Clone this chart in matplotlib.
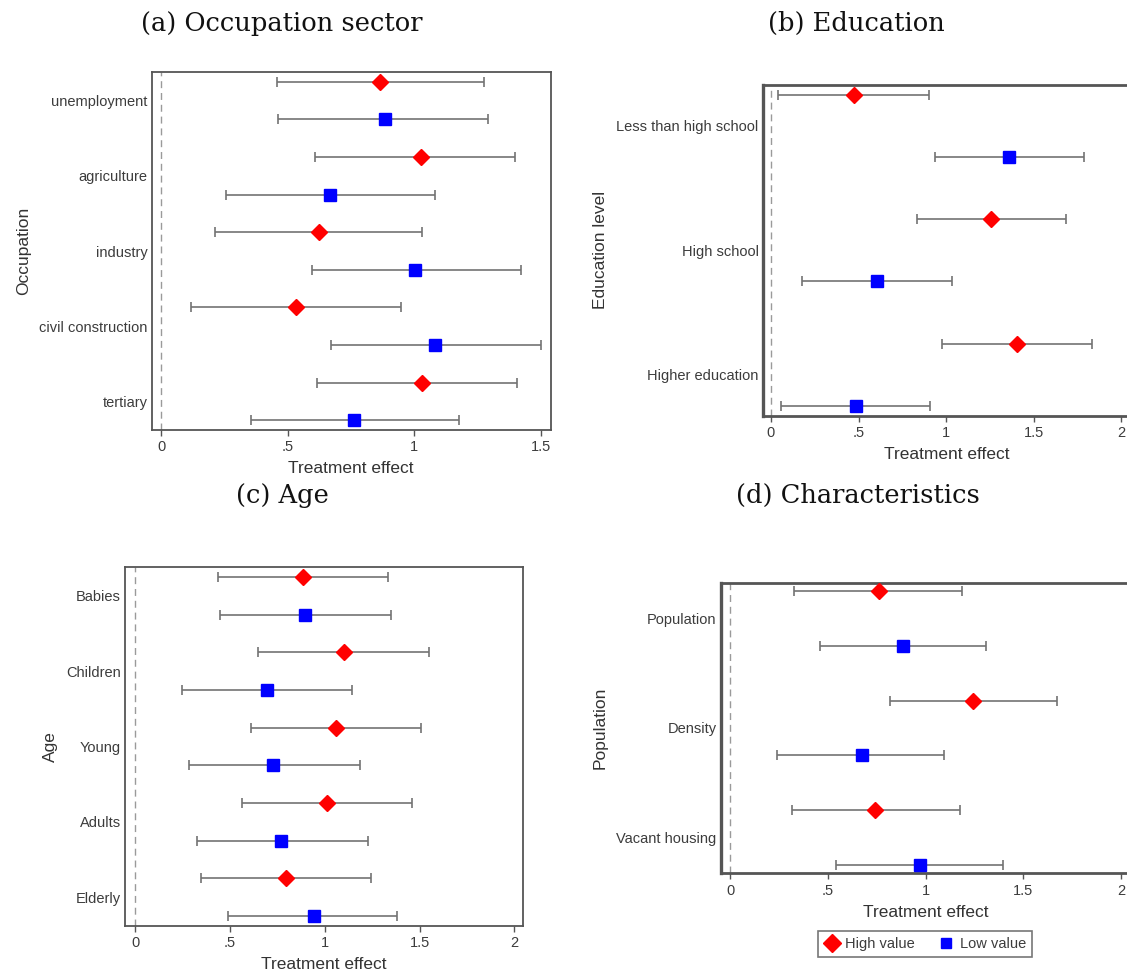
import numpy as np
import matplotlib
matplotlib.use('Agg')
import matplotlib.pyplot as plt
from matplotlib.lines import Line2D

plt.rcParams['font.family'] = ['Liberation Sans', 'DejaVu Sans']

# (a) occupation sector
occ_labels = ['unemployment', 'agriculture', 'industry', 'civil construction', 'tertiary']
occ_high = [0.867, 1.027, 0.624, 0.532, 1.030]
occ_high_lo = [0.457, 0.610, 0.212, 0.120, 0.616]
occ_high_hi = [1.276, 1.398, 1.032, 0.950, 1.405]
occ_low = [0.884, 0.669, 1.005, 1.082, 0.761]
occ_low_lo = [0.464, 0.258, 0.596, 0.672, 0.354]
occ_low_hi = [1.292, 1.084, 1.422, 1.500, 1.177]

# (b) education
edu_labels = ['Less than high school', 'High school', 'Higher education']
edu_high = [0.475, 1.259, 1.405]
edu_high_lo = [0.042, 0.832, 0.976]
edu_high_hi = [0.900, 1.687, 1.834]
edu_low = [1.361, 0.605, 0.485]
edu_low_lo = [0.934, 0.178, 0.055]
edu_low_hi = [1.790, 1.032, 0.908]

# (c) age
age_labels = ['Babies', 'Children', 'Young', 'Adults', 'Elderly']
age_high = [0.888, 1.103, 1.061, 1.012, 0.796]
age_high_lo = [0.438, 0.649, 0.613, 0.565, 0.348]
age_high_hi = [1.336, 1.548, 1.509, 1.458, 1.246]
age_low = [0.894, 0.694, 0.728, 0.771, 0.943]
age_low_lo = [0.448, 0.246, 0.284, 0.325, 0.489]
age_low_hi = [1.347, 1.142, 1.185, 1.226, 1.383]

# (d) population characteristics
pop_labels = ['Population', 'Density', 'Vacant housing']
pop_high = [0.759, 1.241, 0.740]
pop_high_lo = [0.328, 0.816, 0.319]
pop_high_hi = [1.184, 1.670, 1.174]
pop_low = [0.883, 0.673, 0.969]
pop_low_lo = [0.459, 0.242, 0.540]
pop_low_hi = [1.311, 1.094, 1.394]

xticks_a = [0, 0.5, 1, 1.5]
xticklabels_a = ['0', '.5', '1', '1.5']
xticks_b = [0, 0.5, 1, 1.5, 2]
xticklabels_b = ['0', '.5', '1', '1.5', '2']

W, H = 1127, 973
fig = plt.figure(figsize=(W / 100, H / 100), dpi=100)

def box(left, top, right, bottom):
    return [left / W, 1 - bottom / H, (right - left) / W, (bottom - top) / H]

GRAY = '#737373'
SPINE = '#555555'
TXT = '#3c3c3c'

def coefplot(ax, labels, hi, hi_lo, hi_hi, lo, lo_lo, lo_hi, ylabel, xlim, ticks, ticklabels, thick=False):
    n = len(labels)
    y_hi = np.arange(n) * 2
    y_lo = y_hi + 1
    hi = np.array(hi); lo = np.array(lo)
    ax.axvline(0, color='#9a9a9a', lw=1.0, ls=(0, (5, 3.5)), zorder=1)
    ax.errorbar(hi, y_hi, xerr=[hi - np.array(hi_lo), np.array(hi_hi) - hi], fmt='none',
                ecolor=GRAY, elinewidth=1.2, capsize=3.8, capthick=1.2, zorder=2)
    ax.errorbar(lo, y_lo, xerr=[lo - np.array(lo_lo), np.array(lo_hi) - lo], fmt='none',
                ecolor=GRAY, elinewidth=1.2, capsize=3.8, capthick=1.2, zorder=2)
    ax.plot(hi, y_hi, 'D', color='#ff0000', ms=8.5, mec='#ff0000', zorder=3)
    ax.plot(lo, y_lo, 's', color='#0000ff', ms=8, mec='#0000ff', zorder=3)
    pad = 0.26 if n == 5 else 0.16
    ax.set_ylim(2 * n - 1 + pad, -pad)
    ax.set_xlim(*xlim)
    ax.set_yticks(y_hi + 0.5)
    ax.set_yticklabels(labels, fontsize=10.5, color=TXT)
    ax.tick_params(axis='y', length=0, pad=3)
    ax.set_xticks(ticks)
    ax.set_xticklabels(ticklabels, fontsize=10.5, color=TXT)
    ax.tick_params(axis='x', length=4.5, width=1, color=SPINE, pad=3)
    ax.set_xlabel('Treatment effect', fontsize=12.5, color='#333333', labelpad=5)
    ax.set_ylabel(ylabel, fontsize=12.5, color='#333333', labelpad=6)
    for s in ax.spines.values():
        s.set_color(SPINE)
        s.set_linewidth(1.3)
    if thick:
        ax.spines['left'].set_linewidth(2.4)
        ax.spines['bottom'].set_linewidth(2.0)
        ax.spines['top'].set_linewidth(2.0)

ax_a = fig.add_axes(box(151.7, 72, 550.7, 430))
coefplot(ax_a, occ_labels, occ_high, occ_high_lo, occ_high_hi, occ_low, occ_low_lo, occ_low_hi,
         'Occupation', (-0.037, 1.54), xticks_a, xticklabels_a)

ax_b = fig.add_axes(box(762.7, 84.7, 1130, 416))
coefplot(ax_b, edu_labels, edu_high, edu_high_lo, edu_high_hi, edu_low, edu_low_lo, edu_low_hi,
         'Education level', (-0.047, 2.05), xticks_b, xticklabels_b, thick=True)

ax_c = fig.add_axes(box(125, 567, 523.3, 926))
coefplot(ax_c, age_labels, age_high, age_high_lo, age_high_hi, age_low, age_low_lo, age_low_hi,
         'Age', (-0.053, 2.047), xticks_b, xticklabels_b)

ax_d = fig.add_axes(box(720.7, 582.7, 1131, 873.3))
coefplot(ax_d, pop_labels, pop_high, pop_high_lo, pop_high_hi, pop_low, pop_low_lo, pop_low_hi,
         'Population', (-0.048, 2.05), xticks_b, xticklabels_b, thick=True)

# panel titles
title_kw = dict(fontsize=18.5, family=['DejaVu Serif'], ha='center', va='baseline', color='#111111')
fig.text(282 / W, 1 - 31 / H, '(a) Occupation sector', **title_kw)
fig.text(856 / W, 1 - 31 / H, '(b) Education', **title_kw)
fig.text(282 / W, 1 - 503 / H, '(c) Age', **title_kw)
fig.text(858 / W, 1 - 503 / H, '(d) Characteristics', **title_kw)

handles = [Line2D([], [], marker='D', ls='none', color='#ff0000', ms=9),
           Line2D([], [], marker='s', ls='none', color='#0000ff', ms=7.5)]
leg = fig.legend(handles, ['High value', 'Low value'], ncol=2, loc='center',
                 bbox_to_anchor=(925 / W, 1 - 944 / H), fontsize=10.5, frameon=True,
                 fancybox=False, edgecolor='#555555', handletextpad=0.35, columnspacing=1.6,
                 handlelength=1.1, borderpad=0.4, borderaxespad=0)
leg.get_frame().set_linewidth(1.2)
for t in leg.get_texts():
    t.set_color(TXT)

fig.savefig('out.png', dpi=100)
